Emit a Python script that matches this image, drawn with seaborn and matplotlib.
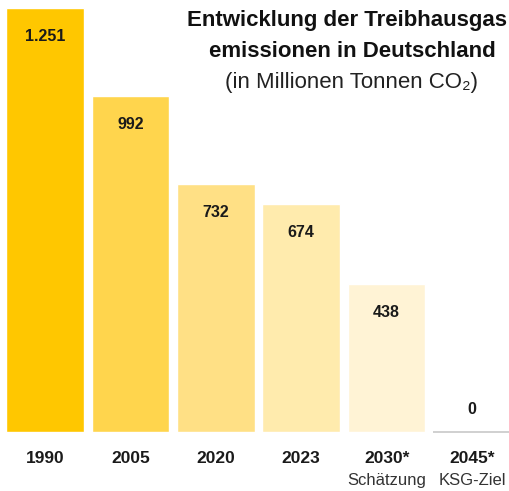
import matplotlib
matplotlib.use('Agg')
import matplotlib.pyplot as plt
import seaborn as sns
import pandas as pd

## Data
years = ['1990', '2005', '2020', '2023', '2030*', '2045*']
emissions = [1251, 992, 732, 674, 438, 0]
value_labels = ['1.251', '992', '732', '674', '438', '0']
notes = ['', '', '', '', 'Schätzung', 'KSG-Ziel']
bar_colors = ['#FFC700', '#FFD54D', '#FFE085', '#FFEBAD', '#FFF3D5', '#FFFFFF']

df = pd.DataFrame({'year': years, 'emissions': emissions})

sns.set_theme(style='white')
plt.rcParams['font.family'] = ['Liberation Sans', 'DejaVu Sans']

fig = plt.figure(figsize=(5.1, 4.91), dpi=100)
ax = fig.add_axes([0, 0.1202, 1, 0.8798])

sns.barplot(data=df, x='year', y='emissions', hue='year', palette=bar_colors,
            legend=False, width=0.91, saturation=1, ax=ax)

# zero bar only shows as a thin grey base line
zero_bar = ax.patches[5]
zero_bar.set_edgecolor('#c8c8c8')
zero_bar.set_linewidth(1.2)
zero_bar.set_clip_on(False)

ax.set_xlim(-0.527, 5.445)
ax.set_ylim(0, 1274.6)
ax.set_xlabel('')
ax.set_ylabel('')
ax.set_yticks([])
for s in ax.spines.values():
    s.set_visible(False)

# value labels inside the bars
for i, (v, lab) in enumerate(zip(emissions, value_labels)):
    if v > 0:
        ax.text(i, v - 85, lab, ha='center', va='center', fontsize=11.5,
                fontweight='bold', color='#1a1a1a')
    else:
        ax.text(i, 65, lab, ha='center', va='center', fontsize=11.5,
                fontweight='bold', color='#1a1a1a')

ax.tick_params(axis='x', length=0, pad=14)
ax.set_xticks(range(len(years)))
ax.set_xticklabels(years, fontsize=12.5, fontweight='bold', color='#1a1a1a')

for i, n in enumerate(notes):
    if n:
        ax.text(i, -0.112, n, transform=ax.get_xaxis_transform(), ha='center',
                va='center', fontsize=12, color='#333333')

# title block
fig.text(0.994, 0.958, 'Entwicklung der Treibhausgas', ha='right', va='center',
         fontsize=16, fontweight='bold', color='#111111')
fig.text(0.69, 0.895, 'emissionen in Deutschland', ha='center', va='center',
         fontsize=16, fontweight='bold', color='#111111')
fig.text(0.69, 0.832, '(in Millionen Tonnen CO₂)', ha='center', va='center',
         fontsize=16, color='#222222')

fig.savefig('out.png', dpi=100)
